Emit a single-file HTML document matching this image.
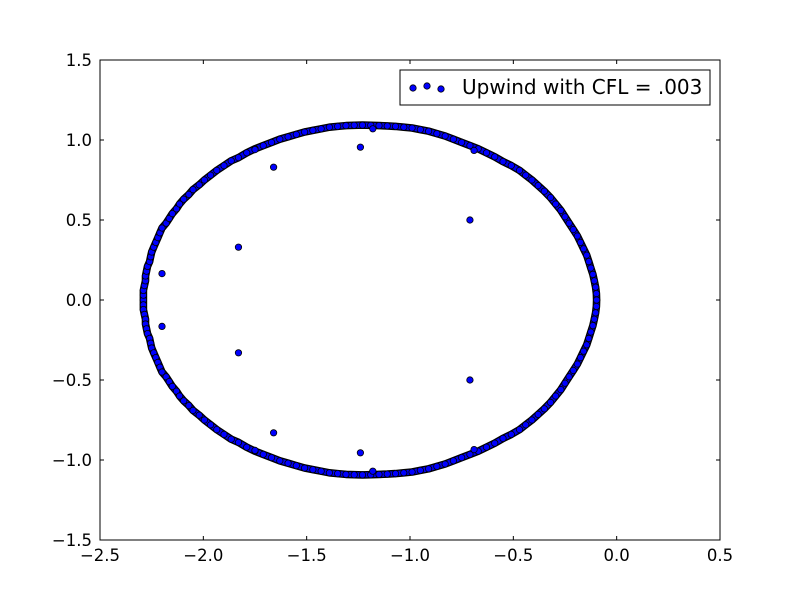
<!DOCTYPE html>
<html><head><meta charset="utf-8"><style>
html,body{margin:0;padding:0;background:#fff;}
svg{display:block;font-family:"DejaVu Sans","Liberation Sans",sans-serif;}
</style></head><body>
<svg id="chart" width="800" height="600" viewBox="0 0 800 600">
<rect x="0" y="0" width="800" height="600" fill="#fff"/>
<g id="marks"></g>
<g id="axes"></g>
<g>
<rect x="400" y="70" width="310" height="35" fill="#fff" stroke="#000" stroke-width="1"/>
<circle cx="413" cy="88" r="3.2" fill="#0000ff" stroke="#000" stroke-width="0.8"/>
<circle cx="427" cy="86" r="3.2" fill="#0000ff" stroke="#000" stroke-width="0.8"/>
<circle cx="441" cy="89" r="3.2" fill="#0000ff" stroke="#000" stroke-width="0.8"/>
<text x="462" y="94" font-size="20" fill="#000">Upwind with CFL = .003</text>
</g>
</svg>
<script>
const xTicks = [-2.5, -2.0, -1.5, -1.0, -0.5, 0.0, 0.5];
const xTickLabels = ["\u22122.5","\u22122.0","\u22121.5","\u22121.0","\u22120.5","0.0","0.5"];
const yTicks = [-1.5, -1.0, -0.5, 0.0, 0.5, 1.0, 1.5];
const yTickLabels = ["\u22121.5","\u22121.0","\u22120.5","0.0","0.5","1.0","1.5"];
// upper-half ring eigenvalues (real, imag); the lower half is their complex conjugates
const ringRe = [-2.29,-2.29,-2.29,-2.285,-2.28,-2.28,-2.275,-2.27,-2.26,-2.255,-2.25,-2.24,-2.23,-2.22,-2.21,-2.2,-2.18,-2.165,-2.15,-2.13,-2.115,-2.095,-2.07,-2.05,-2.02,-1.995,-1.965,-1.935,-1.9,-1.865,-1.83,-1.79,-1.75,-1.71,-1.67,-1.63,-1.59,-1.55,-1.51,-1.47,-1.43,-1.39,-1.35,-1.31,-1.27,-1.23,-1.19,-1.15,-1.11,-1.07,-1.03,-0.99,-0.95,-0.91,-0.87,-0.83,-0.79,-0.75,-0.71,-0.67,-0.63,-0.59,-0.55,-0.51,-0.47,-0.44,-0.41,-0.38,-0.35,-0.32,-0.295,-0.27,-0.25,-0.23,-0.21,-0.19,-0.175,-0.16,-0.145,-0.135,-0.125,-0.115,-0.108,-0.102,-0.098,-0.097];
const ringIm = [0.00,0.03,0.06,0.09,0.12,0.15,0.18,0.21,0.24,0.27,0.30,0.33,0.36,0.39,0.42,0.45,0.48,0.51,0.54,0.57,0.60,0.63,0.66,0.69,0.72,0.75,0.78,0.81,0.84,0.87,0.89,0.92,0.945,0.965,0.985,1.005,1.02,1.035,1.05,1.06,1.07,1.08,1.085,1.09,1.092,1.093,1.092,1.09,1.088,1.085,1.08,1.075,1.065,1.055,1.04,1.025,1.005,0.985,0.965,0.945,0.92,0.895,0.865,0.84,0.81,0.78,0.75,0.715,0.68,0.64,0.6,0.56,0.52,0.48,0.44,0.4,0.36,0.32,0.28,0.24,0.2,0.16,0.12,0.08,0.04,0.0];
// isolated interior eigenvalues
const innerRe = [-2.2,-2.2,-1.83,-1.83,-1.66,-1.66,-1.24,-1.24,-1.18,-1.18,-0.71,-0.71,-0.69,-0.69,-1.75,-1.75];
const innerIm = [0.165,-0.165,0.33,-0.33,0.83,-0.83,0.955,-0.955,1.07,-1.07,0.5,-0.5,0.935,-0.935,0.94,-0.94];

const L=100,R=720,T=60,B=540, xMin=-2.5,xMax=0.5,yMin=-1.5,yMax=1.5;
const sx=v=>L+(v-xMin)/(xMax-xMin)*(R-L);
const sy=v=>B-(v-yMin)/(yMax-yMin)*(B-T);
const NS="http://www.w3.org/2000/svg";
const marks=document.getElementById('marks');

// dense ring drawn as a band through the ring eigenvalues (overlapping markers)
let pts=ringRe.map((x,i)=>[sx(x),sy(ringIm[i])]);
let low=ringRe.map((x,i)=>[sx(x),sy(-ringIm[i])]).reverse();
const d='M'+pts.concat(low).map(p=>p[0].toFixed(1)+','+p[1].toFixed(1)).join('L')+'Z';
const band1=document.createElementNS(NS,'path');
band1.setAttribute('d',d);band1.setAttribute('fill','none');band1.setAttribute('stroke','#000');band1.setAttribute('stroke-width',7.6);band1.setAttribute('stroke-linejoin','round');


marks.appendChild(band1);
const band2=document.createElementNS(NS,'path');
band2.setAttribute('d',d);band2.setAttribute('fill','none');band2.setAttribute('stroke','#0000ee');band2.setAttribute('stroke-width',5);band2.setAttribute('stroke-linejoin','round');


marks.appendChild(band2);

function dot(x,y,name){
  const c=document.createElementNS(NS,'circle');
  c.setAttribute('cx',sx(x));c.setAttribute('cy',sy(y));c.setAttribute('r',3.2);
  c.setAttribute('fill','#0000ff');c.setAttribute('stroke','#000');c.setAttribute('stroke-width',0.8);
  
  
  marks.appendChild(c);
}
ringRe.forEach((x,i)=>{dot(x,ringIm[i],'ring-point');dot(x,-ringIm[i],'ring-point-conjugate');});
innerRe.forEach((x,i)=>dot(x,innerIm[i],'interior-point'));

const axes=document.getElementById('axes');
function el(tag,attrs,name,text){
  const e=document.createElementNS(NS,tag);
  for(const k in attrs)e.setAttribute(k,attrs[k]);
  
  
  if(text!==undefined)e.textContent=text;
  axes.appendChild(e);return e;
}
el('rect',{x:L,y:T,width:R-L,height:B-T,fill:'none',stroke:'#000','stroke-width':1},'plot-frame');
xTicks.forEach((v,i)=>{
  const x=sx(v);
  el('line',{x1:x,x2:x,y1:B,y2:B-4,stroke:'#000'},'x-tick');
  el('line',{x1:x,x2:x,y1:T,y2:T+4,stroke:'#000'},'x-tick-top');
  el('text',{x:x,y:B+21,'font-size':16.5,'text-anchor':'middle'},'x-tick-label',xTickLabels[i]);
});
yTicks.forEach((v,i)=>{
  const y=sy(v);
  el('line',{x1:L,x2:L+4,y1:y,y2:y,stroke:'#000'},'y-tick');
  el('line',{x1:R,x2:R-4,y1:y,y2:y,stroke:'#000'},'y-tick-right');
  el('text',{x:L-8,y:y+6,'font-size':16.5,'text-anchor':'end'},'y-tick-label',yTickLabels[i]);
});
</script>
</body></html>
